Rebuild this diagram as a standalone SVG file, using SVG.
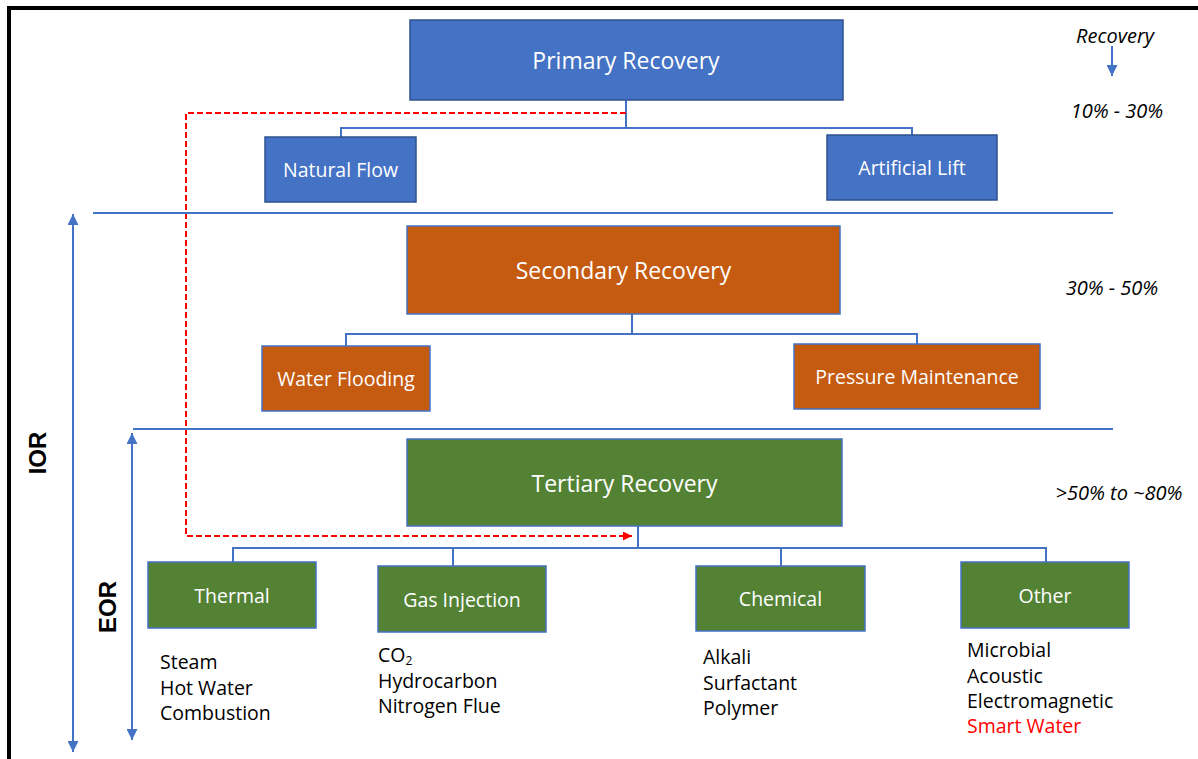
<svg xmlns="http://www.w3.org/2000/svg" width="1198" height="759" viewBox="0 0 1198 759">
<style>
.lbl{font-family:"Open Sans","Liberation Sans",sans-serif;fill:#ffffff;text-anchor:middle}
.big{font-size:23px}
.sm{font-size:19.5px}
.lst{font-family:"Open Sans","Liberation Sans",sans-serif;font-size:19.5px;fill:#000000}
.pct{font-family:"Open Sans","Liberation Sans",sans-serif;font-size:20px;font-style:italic;fill:#000000;text-anchor:middle}
.side{font-family:"Liberation Sans","Open Sans",sans-serif;font-size:24px;font-weight:bold;fill:#000000;text-anchor:middle}
.blue{fill:#4472C4;stroke:#2F528F;stroke-width:1.5}
.orange{fill:#C55A11;stroke:#4472C4;stroke-width:1.5}
.green{fill:#548235;stroke:#4472C4;stroke-width:1.5}
.con{fill:none;stroke:#4472C4;stroke-width:2}
.sep{fill:none;stroke:#4472C4;stroke-width:2}
.red{fill:none;stroke:#FF0000;stroke-width:2;stroke-dasharray:6,3}
</style>
<defs>
<marker id="ar" viewBox="0 0 10 10" refX="10" refY="5" markerWidth="9" markerHeight="9" orient="auto" markerUnits="userSpaceOnUse">
<path d="M0,0 L10,5 L0,10 z" fill="#FF0000"/>
</marker>
<marker id="abig" viewBox="0 0 10 10" refX="10" refY="5" markerWidth="11" markerHeight="11" orient="auto-start-reverse" markerUnits="userSpaceOnUse">
<path d="M0,0 L10,5 L0,10 z" fill="#4472C4"/>
</marker>
</defs>
<rect width="1198" height="759" fill="#ffffff"/>
<path d="M9,759 L9,8 L1198,8" fill="none" stroke="#000000" stroke-width="4"/>

<g id="connectors">
<path class="con" d="M626,100 V128 M341,137 V128 H912 V135"/>
<path class="con" d="M632,314 V334 M346,346 V334 H917 V344"/>
<path class="con" d="M638,526 V548 M233,562 V548 H1046 V562 M453,548 V566 M781,548 V566"/>
<path class="red" d="M626,113 H186 V536 H632" marker-end="url(#ar)"/>
<line class="sep" x1="93" y1="213" x2="1113" y2="213"/>
<line class="sep" x1="133" y1="429" x2="1113" y2="429"/>
<line class="con" x1="73" y1="214" x2="73" y2="752" marker-start="url(#abig)" marker-end="url(#abig)"/>
<line class="con" x1="132" y1="433" x2="132" y2="740" marker-start="url(#abig)" marker-end="url(#abig)"/>
<line class="con" x1="1112" y1="46" x2="1112" y2="76" marker-end="url(#abig)"/>
</g>

<g id="primary"><rect class="blue" x="410" y="20" width="433" height="80"/><text class="lbl big" x="626" y="69">Primary Recovery</text></g>
<g id="natural-flow"><rect class="blue" x="265" y="137" width="151" height="65"/><text class="lbl sm" x="340.5" y="177">Natural Flow</text></g>
<g id="artificial-lift"><rect class="blue" x="827" y="135" width="170" height="65"/><text class="lbl sm" x="912" y="175">Artificial Lift</text></g>

<g id="secondary"><rect class="orange" x="407" y="226" width="433" height="88"/><text class="lbl big" x="623.5" y="279">Secondary Recovery</text></g>
<g id="water-flooding"><rect class="orange" x="262" y="346" width="168" height="65"/><text class="lbl sm" x="346" y="386">Water Flooding</text></g>
<g id="pressure-maintenance"><rect class="orange" x="794" y="344" width="246" height="65"/><text class="lbl sm" x="917" y="384">Pressure Maintenance</text></g>

<g id="tertiary"><rect class="green" x="407" y="439" width="435" height="87"/><text class="lbl big" x="624.5" y="492">Tertiary Recovery</text></g>
<g id="thermal"><rect class="green" x="148" y="562" width="168" height="66"/><text class="lbl sm" x="232" y="603">Thermal</text></g>
<g id="gas-injection"><rect class="green" x="378" y="566" width="168" height="66"/><text class="lbl sm" x="462" y="607">Gas Injection</text></g>
<g id="chemical"><rect class="green" x="696" y="566" width="169" height="65"/><text class="lbl sm" x="780.5" y="606">Chemical</text></g>
<g id="other"><rect class="green" x="961" y="562" width="168" height="66"/><text class="lbl sm" x="1045" y="603">Other</text></g>

<g id="thermal-list" class="lst"><text x="160" y="669">Steam</text><text x="160" y="694.5">Hot Water</text><text x="160" y="720">Combustion</text></g>
<g id="gas-list" class="lst"><text x="378" y="662">CO<tspan font-size="12" dy="3">2</tspan></text><text x="378" y="688">Hydrocarbon</text><text x="378" y="713">Nitrogen Flue</text></g>
<g id="chemical-list" class="lst"><text x="703" y="664">Alkali</text><text x="703" y="689.5">Surfactant</text><text x="703" y="715">Polymer</text></g>
<g id="other-list" class="lst"><text x="967" y="657">Microbial</text><text x="967" y="682.5">Acoustic</text><text x="967" y="708">Electromagnetic</text><text x="967" y="733" fill="#FF0000">Smart Water</text></g>

<g id="recovery-scale">
<text class="pct" x="1115" y="43">Recovery</text>
<text class="pct" x="1117" y="118">10% - 30%</text>
<text class="pct" x="1112" y="295">30% - 50%</text>
<text class="pct" x="1119" y="500">&gt;50% to ~80%</text>
</g>

<g id="ior"><text class="side" transform="translate(46,453) rotate(-90)">IOR</text></g>
<g id="eor"><text class="side" transform="translate(116,607) rotate(-90)">EOR</text></g>
</svg>
